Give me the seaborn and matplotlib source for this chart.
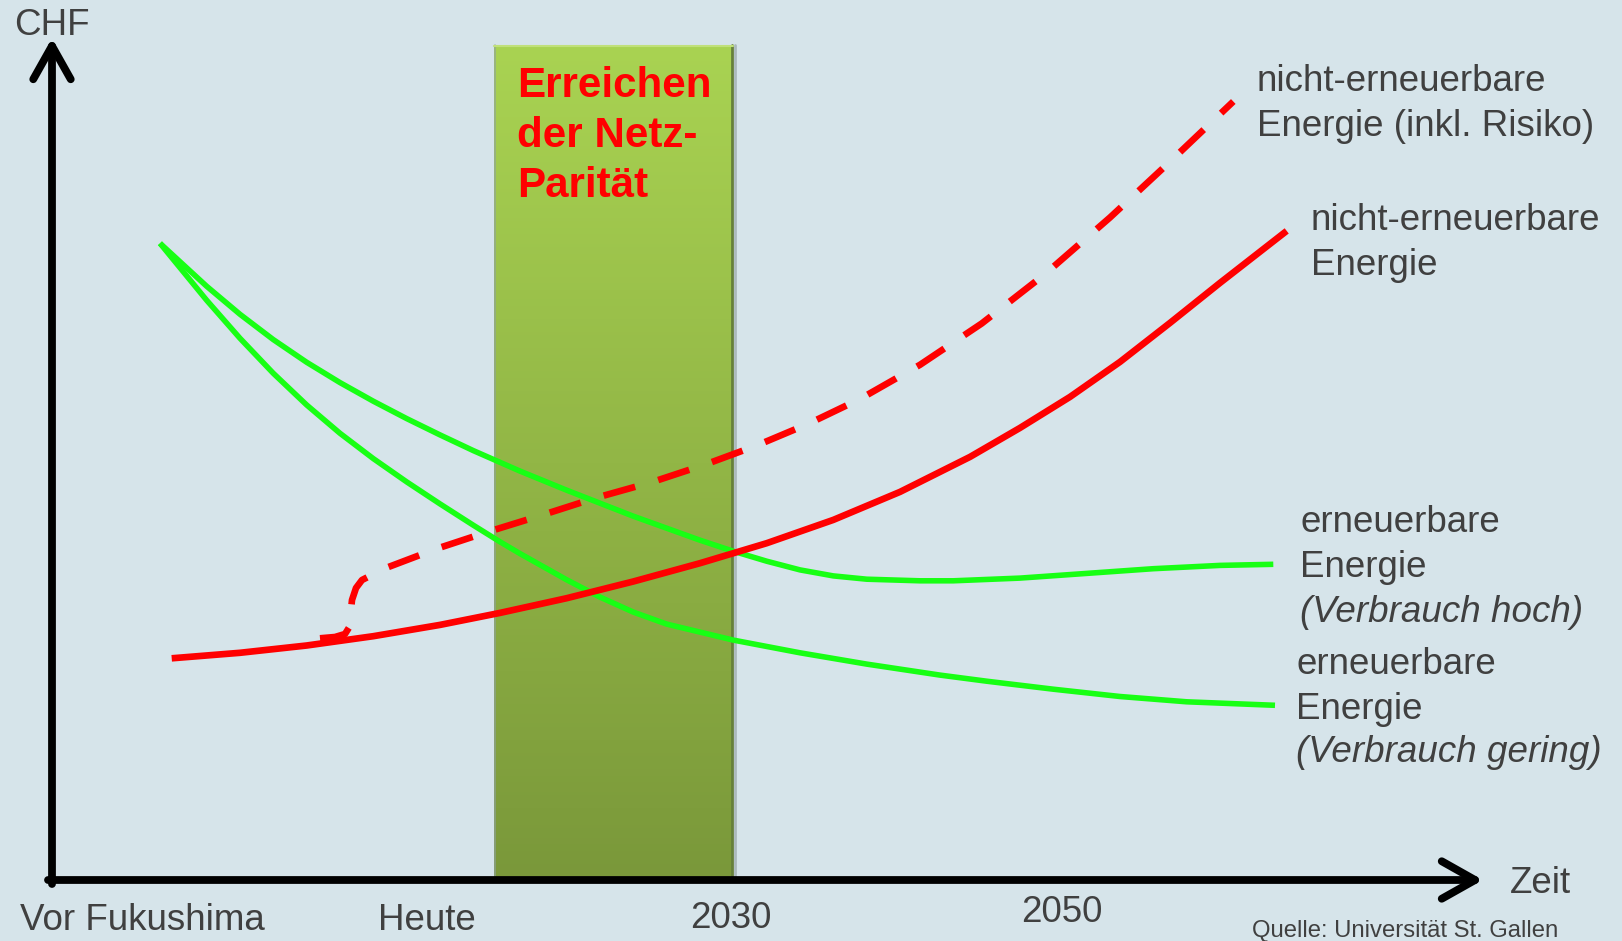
import numpy as np
import seaborn as sns
import matplotlib.pyplot as plt
from matplotlib.colors import LinearSegmentedColormap

rot_x = [11.97, 18.8, 25.47, 32.13, 38.8, 44.8, 51.47, 58.13, 64.8, 71.47, 78.13, 84.8,
         91.8, 96.8, 101.8, 106.8, 111.8, 116.8, 123.47]
rot_y = [22.17, 22.72, 23.45, 24.38, 25.51, 26.71, 28.18, 29.85, 31.68, 33.68, 36.01, 38.81,
         42.31, 45.21, 48.31, 51.81, 55.71, 59.71, 64.91]

risiko_x = [26.8, 28.3, 29.3, 29.8, 29.85, 30.0, 30.4, 31.0, 33.3, 38.47, 43.63, 49.13, 54.47,
            59.97, 65.3, 70.47, 75.63, 80.8, 86.8, 92.97, 99.3, 105.8, 111.63, 118.13]
risiko_y = [24.17, 24.3, 24.6, 25.4, 26.5, 28.0, 29.2, 30.0, 31.17, 33.13, 34.83, 36.53, 38.24,
            39.78, 41.54, 43.45, 45.62, 48.1, 51.52, 55.65, 60.59, 66.25, 71.67, 77.85]

hoch_x = [10.8, 15.47, 18.8, 22.13, 25.47, 28.8, 32.13, 35.47, 38.8, 42.13, 46.8, 51.47,
          58.13, 64.8, 68.13, 71.47, 74.8, 78.13, 81.47, 86.8, 90.13, 96.8, 103.47, 110.13,
          116.8, 122.13]
hoch_y = [63.67, 59.37, 56.57, 54.04, 51.77, 49.74, 47.88, 46.14, 44.51, 42.94, 40.89, 38.98,
          36.38, 33.98, 32.88, 31.88, 31.01, 30.41, 30.08, 29.92, 29.92, 30.19, 30.66, 31.13,
          31.46, 31.57]

gering_x = [10.8, 15.47, 18.8, 22.13, 25.47, 28.8, 32.13, 35.47, 38.8, 42.13, 44.8, 46.8,
            51.47, 54.8, 58.13, 61.47, 68.13, 74.8, 81.47, 88.8, 93.47, 100.13, 106.8, 113.47,
            122.3]
gering_y = [63.67, 57.97, 54.17, 50.67, 47.5, 44.67, 42.14, 39.81, 37.61, 35.48, 33.82, 32.64,
            30.02, 28.29, 26.79, 25.59, 23.99, 22.72, 21.59, 20.49, 19.88, 19.08, 18.35, 17.82,
            17.47]

# Zeitraum "Erreichen der Netz-Parität"
paritaet_von, paritaet_bis, paritaet_hoehe = 44.2, 68.05, 83.5

tick_pos = [9.02, 37.47, 67.93, 100.97]
tick_y = [-5.0, -5.0, -4.83, -4.17]
tick_labels = ["Vor Fukushima", "Heute", "2030", "2050"]

BG = "#d6e4ea"
GRAU = "#404040"
ROT = "#ff0000"
GRUEN = "#18ff14"
FS = 26.5

sns.set_style("white")
plt.rcParams['font.family'] = ['Liberation Sans', 'DejaVu Sans']

fig = plt.figure(figsize=(16.22, 9.41), dpi=100, facecolor=BG)
ax = fig.add_axes([0, 0, 1, 1])
ax.set_facecolor(BG)
ax.axis('off')

# grüner Balken mit Verlauf
cmap = LinearSegmentedColormap.from_list("bar", ["#7a983a", "#92b646", "#a9d352"])
grad = np.linspace(0, 1, 256).reshape(-1, 1)
ax.imshow(grad, extent=[paritaet_von, paritaet_bis, 0, paritaet_hoehe], origin='lower',
          cmap=cmap, aspect='auto', zorder=1)
ax.plot([paritaet_bis - 0.1] * 2, [0, paritaet_hoehe], color="#66803a", lw=2, zorder=1)
ax.plot([paritaet_bis + 0.2] * 2, [0, paritaet_hoehe], color="#9aa8aa", lw=2, alpha=0.7, zorder=1)
ax.plot([paritaet_von + 0.05] * 2, [0, paritaet_hoehe], color="#8fa0a0", lw=1.2, alpha=0.7, zorder=1)
ax.plot([paritaet_von, paritaet_bis], [paritaet_hoehe - 0.1] * 2, color="#c0e07a", lw=1.5, zorder=1)

# Kurven
kw = dict(ax=ax, sort=False, estimator=None, solid_capstyle='butt', solid_joinstyle='round')
sns.lineplot(x=gering_x, y=gering_y, color=GRUEN, lw=4.0, zorder=3, **kw)
sns.lineplot(x=hoch_x, y=hoch_y, color=GRUEN, lw=4.0, zorder=3, **kw)
sns.lineplot(x=rot_x, y=rot_y, color=ROT, lw=4.8, zorder=4, **kw)
sns.lineplot(x=risiko_x, y=risiko_y, ax=ax, sort=False, estimator=None, color=ROT, lw=4.8,
             linestyle=(0, (4.9, 3.6)), dash_capstyle='butt', dash_joinstyle='round', zorder=4)

# Achsen mit Pfeilen
pfeil = dict(arrowstyle='->,head_length=0.8,head_width=0.45', lw=5.6, color='black',
             shrinkA=0, shrinkB=0, mutation_scale=30, joinstyle='round', capstyle='round')
ax.annotate('', xy=(0, 84.2), xytext=(0, -0.4), arrowprops=pfeil, zorder=5)
ax.annotate('', xy=(143.1, 0), xytext=(-0.4, 0), arrowprops=pfeil, zorder=5)

ax.text(0, 84.5, "CHF", ha='center', va='baseline', fontsize=FS, color=GRAU)
ax.text(145.8, -1.33, "Zeit", ha='left', va='baseline', fontsize=FS, color=GRAU)
for x, y, lab in zip(tick_pos, tick_y, tick_labels):
    ax.text(x, y, lab, ha='center', va='baseline', fontsize=FS, color=GRAU)

# Beschriftung im Balken
for y, zeile in zip([78.33, 73.27, 68.33], ["Erreichen", "der Netz-", "Parität"]):
    ax.text(46.47, y, zeile, ha='left', va='baseline', fontsize=30.3, fontweight='bold', color=ROT)

# Kurvenbeschriftungen
labels = [
    (120.47, [78.93, 74.4], ["nicht-erneuerbare", "Energie (inkl. Risiko)"]),
    (125.87, [65.0, 60.5], ["nicht-erneuerbare", "Energie"]),
    (124.8, [34.83, 30.27, 25.83], ["erneuerbare", "Energie", "(Verbrauch hoch)"]),
    (124.4, [20.6, 16.07, 11.83], ["erneuerbare", "Energie", "(Verbrauch gering)"]),
]
for x, ys, zeilen in labels:
    for y, zeile in zip(ys, zeilen):
        stil = 'italic' if zeile.startswith('(Verbrauch') else 'normal'
        ax.text(x, y, zeile, ha='left', va='baseline', fontsize=FS, color=GRAU, fontstyle=stil)

ax.text(120.0, -5.75, "Quelle: Universität St. Gallen", ha='left', va='baseline',
        fontsize=17.2, color=GRAU)

ax.set_xlim(-5.2, 157.0)
ax.set_ylim(-6.1, 88.0)

fig.savefig("out.png", dpi=100, facecolor=BG)
plt.close(fig)
